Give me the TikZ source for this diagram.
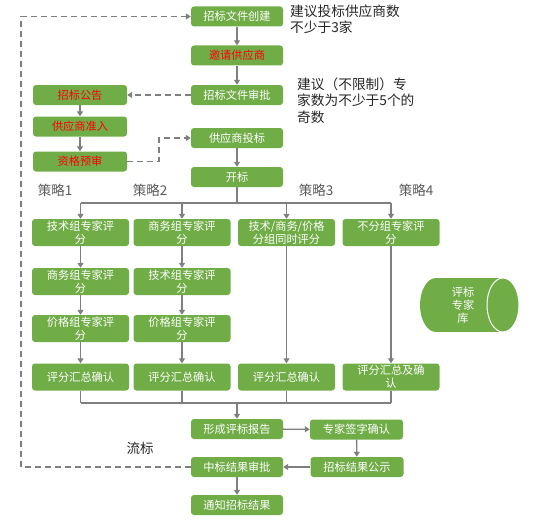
\documentclass[tikz,border=0pt]{standalone}
\usepackage{fontspec}
\setmainfont{Noto Sans CJK SC}
\usetikzlibrary{arrows.meta}
\definecolor{gbox}{HTML}{70AD47}
\definecolor{gline}{HTML}{7F7F7F}
\definecolor{redtxt}{HTML}{FF0000}
\begin{document}
\begin{tikzpicture}[x=1pt,y=-1pt,
  box/.style={fill=gbox, rounded corners=3pt, text=white, font=\fontsize{11.2}{13}\selectfont, align=center, inner sep=0pt, minimum width=92pt, minimum height=20pt},
  lbox/.style={box, minimum width=94pt},
  sbox/.style={box, minimum width=97pt, minimum height=27pt},
  rbox/.style={box, minimum width=93pt},
  red/.style={text=redtxt},
  conn/.style={draw=gline, line width=1.4pt},
  arr/.style={conn, -{Triangle[length=5pt,width=6pt]}},
  darr/.style={arr, dash pattern=on 6pt off 4pt},
  dline/.style={conn, dash pattern=on 6pt off 4pt},
  lab/.style={text=black!65, font=\fontsize{13.5}{15}\selectfont, inner sep=0pt},
  note/.style={text=black!85, font=\fontsize{13.7}{16.5}\selectfont, align=left, inner sep=0pt, anchor=north west}]
\useasboundingbox (0,0) rectangle (538,527);

% main column
\node[box] (create) at (237,16.5) {招标文件创建};
\node[box,red] (invite) at (237,55.5) {邀请供应商};
\node[box] (approve) at (237,95) {招标文件审批};
\node[box] (bid) at (237,138) {供应商投标};
\node[box] (open) at (237,177) {开标};

% left column
\node[lbox,red] (notice) at (80,95) {招标公告};
\node[lbox,red] (admit) at (80,126.5) {供应商准入};
\node[lbox,red] (prequal) at (80,161.5) {资格预审};

% notes
\node[note] (note1) at (290,4.5) {建议投标供应商数\\不少于3家};
\node[note] (note2) at (297,77.5) {建议（不限制）专\\家数为不少于5个的\\奇数};

% strategy labels
\node[lab] (s1) at (55,190) {策略1};
\node[lab] (s2) at (150,190) {策略2};
\node[lab] (s3) at (316,190) {策略3};
\node[lab] (s4) at (416,190) {策略4};

% strategy boxes
\node[sbox] (a1) at (80.5,232.5) {技术组专家评\\分};
\node[sbox] (a2) at (80.5,281.5) {商务组专家评\\分};
\node[sbox] (a3) at (80.5,328.5) {价格组专家评\\分};
\node[sbox] (a4) at (80.5,377) {评分汇总确认};
\node[sbox] (b1) at (182,232.5) {商务组专家评\\分};
\node[sbox] (b2) at (182,281.5) {技术组专家评\\分};
\node[sbox] (b3) at (182,328.5) {价格组专家评\\分};
\node[sbox] (b4) at (182,377) {评分汇总确认};
\node[sbox] (c1) at (286.5,232.5) {技术/商务/价格\\分组同时评分};
\node[sbox] (c4) at (286.5,377) {评分汇总确认};
\node[sbox] (d1) at (391,232.5) {不分组专家评\\分};
\node[sbox] (d4) at (391,377) {评分汇总及确\\认};

% bottom
\node[box] (report) at (237,429) {形成评标报告};
\node[rbox] (sign) at (356.5,429.5) {专家签字确认};
\node[rbox] (publish) at (357,467) {招标结果公示};
\node[box] (result) at (237,467) {中标结果审批};
\node[box] (inform) at (237,505) {通知招标结果};
\node[lab, text=black!85] (fail) at (140,448) {流标};

% cylinder
\fill[gbox] (436,305) ellipse [x radius=16pt, y radius=27pt];
\fill[gbox] (436,278) rectangle (503,332);
\filldraw[fill=gbox, draw=white, line width=1pt] (503,305) ellipse [x radius=16pt, y radius=27pt];
\node[text=white, font=\fontsize{11.2}{13}\selectfont, align=center, inner sep=0pt] (lib) at (463,305) {评标\\专家\\库};

% main arrows
\draw[arr] (create) -- (invite);
\draw[arr] (invite) -- (approve);
\draw[arr] (bid) -- (open);
\draw[darr] (approve) -- (notice);
\draw[arr] (notice) -- (admit);
\draw[arr] (admit) -- (prequal);
\coordinate (pq) at (159,150);
\draw[darr] (prequal.east) -| (pq) |- (bid.west);

% branch
\coordinate (br) at (237,203);
\draw[conn] (open.south) -- (br);
\draw[conn] (a1.north |- br) -- (d1.north |- br);
\draw[arr] (a1.north |- br) -- (a1.north);
\draw[arr] (b1.north |- br) -- (b1.north);
\draw[arr] (c1.north |- br) -- (c1.north);
\draw[arr] (d1.north |- br) -- (d1.north);

\draw[arr] (a1) -- (a2);
\draw[arr] (a2) -- (a3);
\draw[arr] (a3) -- (a4);
\draw[arr] (b1) -- (b2);
\draw[arr] (b2) -- (b3);
\draw[arr] (b3) -- (b4);
\draw[arr] (c1) -- (c4);
\draw[arr] (d1) -- (d4);

% merge
\coordinate (mg) at (237,403);
\draw[conn] (a4.south) -- (a4.south |- mg);
\draw[conn] (b4.south) -- (b4.south |- mg);
\draw[conn] (c4.south) -- (c4.south |- mg);
\draw[conn] (d4.south) -- (d4.south |- mg);
\draw[conn] (a4.south |- mg) -- (d4.south |- mg);
\draw[arr] (mg) -- (report.north);

\draw[arr] (report) -- (sign);
\draw[arr] (sign) -- (publish);
\draw[arr] (publish) -- (result);
\draw[arr] (result) -- (inform);

% loop back
\coordinate (lb) at (21,467);
\coordinate (lt) at (21,16.5);
\draw[dline] (result.west) -- (lb) -- (lt);
\draw[darr] (lt) -- (create.west);
\end{tikzpicture}
\end{document}
